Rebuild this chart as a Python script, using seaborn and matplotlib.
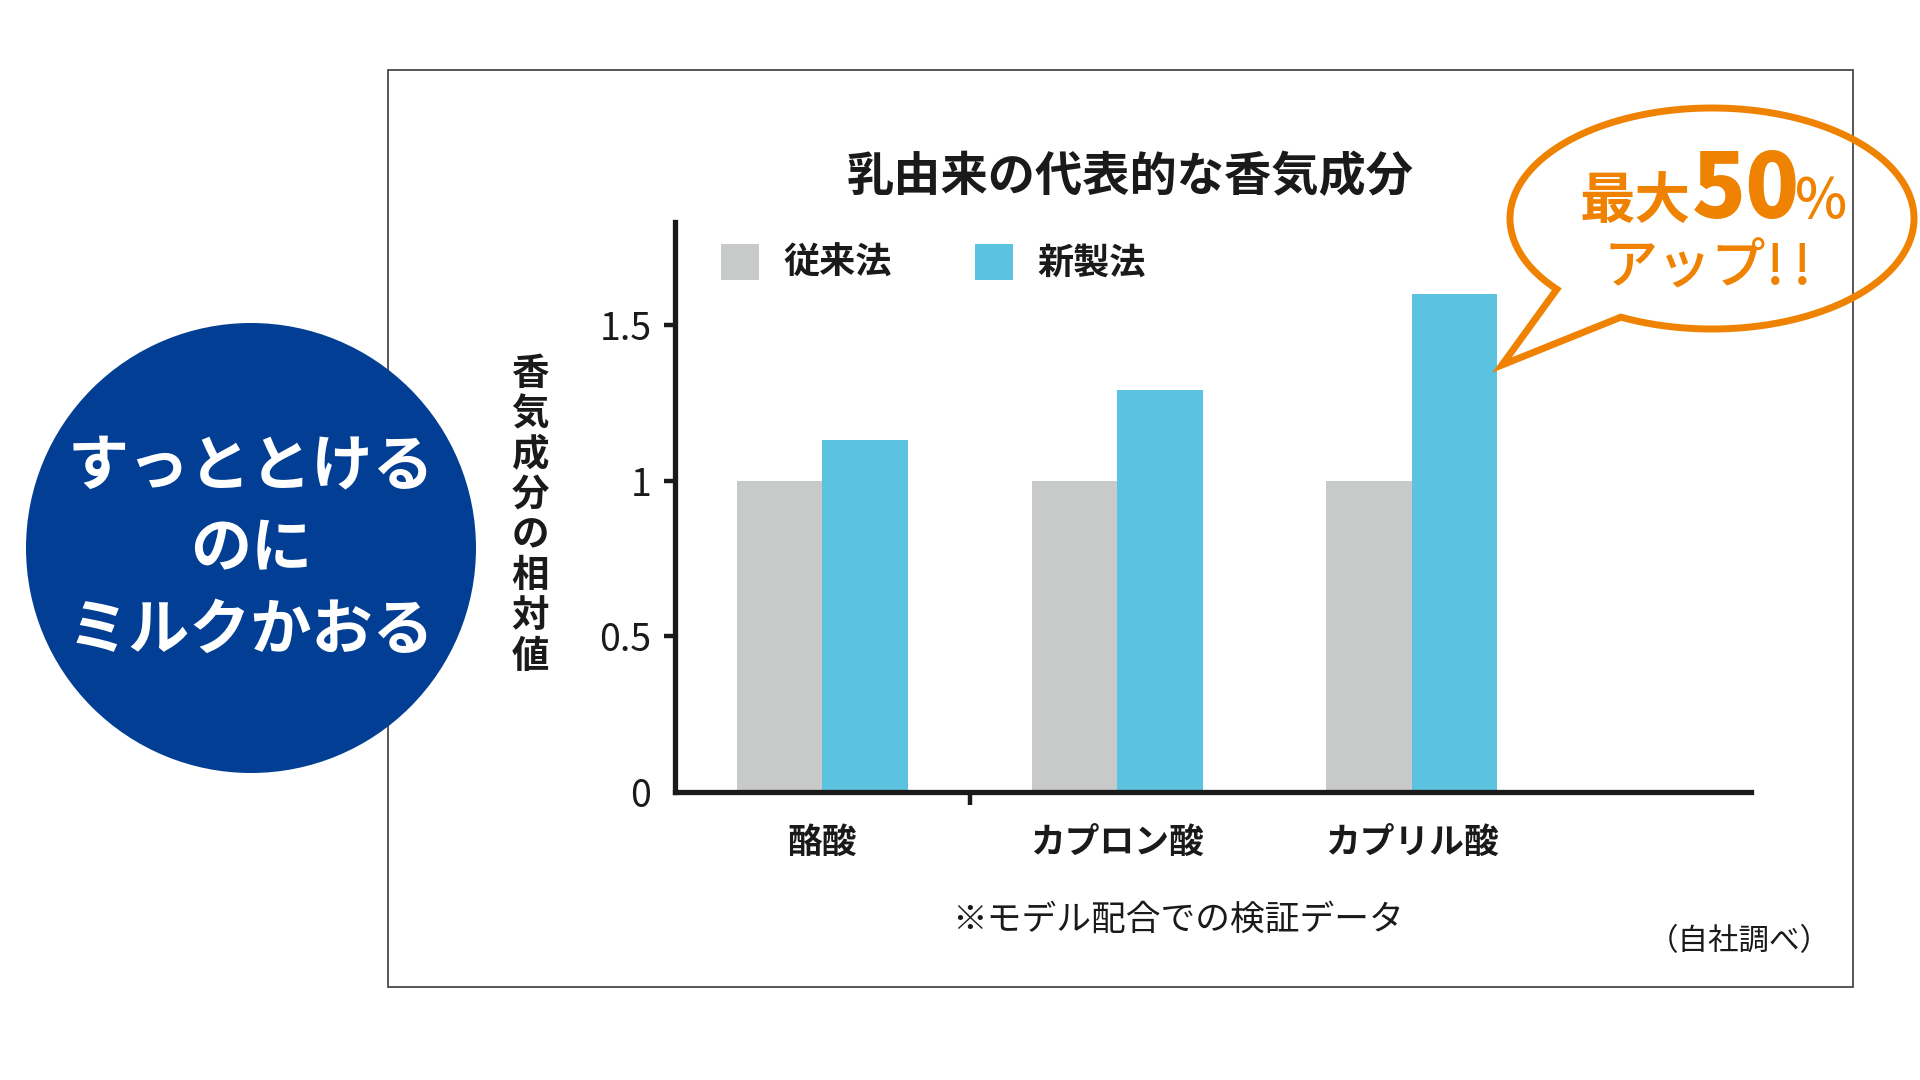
import numpy as np
import pandas as pd
import matplotlib
matplotlib.use("Agg")
import matplotlib.pyplot as plt
import seaborn as sns
from matplotlib.patches import Patch, Circle, Polygon, Rectangle

# ---------------- data ----------------
categories = ["酪酸", "カプロン酸", "カプリル酸"]
methods = ["従来法", "新製法"]
conventional = [1.0, 1.0, 1.0]
new_method = [1.13, 1.29, 1.60]
yticks = [0, 0.5, 1, 1.5]
ytick_labels = ["0", "0.5", "1", "1.5"]
title = "乳由来の代表的な香気成分"
ylabel = "香気成分の相対値"
note = "※モデル配合での検証データ"
source = "（自社調べ）"
circle_lines = ["すっととける", "のに", "ミルクかおる"]

GRAY = "#C8C9C9"
BLUE = "#5BC2E0"
NAVY = "#023F94"
ORANGE = "#EF8200"
INK = "#1A1A1A"

sns.set_theme(style="white")
plt.rcParams["font.family"] = ["Noto Sans CJK JP", "DejaVu Sans"]

df = pd.DataFrame({
    "成分": categories * 2,
    "製法": [methods[0]] * 3 + [methods[1]] * 3,
    "値": conventional + new_method,
})

W, H = 1920, 1080
fig = plt.figure(figsize=(W / 100, H / 100), dpi=100)
fig.patch.set_facecolor("white")

# main axes
ax_l, ax_r, ax_b, ax_t = 675, 1751, 792, 222
ax = fig.add_axes([ax_l / W, 1 - ax_b / H, (ax_r - ax_l) / W, (ax_b - ax_t) / H])
ax.set_zorder(1)
sns.barplot(data=df, x="成分", y="値", hue="製法", palette=[GRAY, BLUE],
            width=0.58, gap=0, saturation=1, legend=False, ax=ax,
            edgecolor="none", linewidth=0)
ax.set_facecolor("none")
ax.set_xlim(-0.5, 3.15)
ax.set_ylim(0, 1.831)
ax.set_xlabel("")
ax.set_ylabel("")
for s in ["top", "right"]:
    ax.spines[s].set_visible(False)
for s in ["left", "bottom"]:
    ax.spines[s].set_linewidth(3.8)
    ax.spines[s].set_color(INK)
    ax.spines[s].set_capstyle("projecting")

ax.set_yticks(yticks)
ax.set_yticklabels(ytick_labels)
ax.tick_params(axis="y", direction="out", length=8, width=3.2, color=INK,
               labelsize=27, labelcolor=INK, pad=9, left=True)
ax.yaxis.get_major_ticks()[0].tick1line.set_visible(False)

ax.set_xticks(range(len(categories)))
ax.set_xticklabels(categories, fontsize=25, fontweight="bold", color=INK)
ax.set_xticks([0.5, 1.5, 2.5], minor=True)
ax.tick_params(axis="x", which="major", length=0, pad=24)
ax.tick_params(axis="x", which="minor", direction="out", length=9, width=3.2,
               color=INK, bottom=True)
for tk in ax.xaxis.get_minor_ticks()[1:]:
    tk.tick1line.set_markersize(2.5)
ax.grid(False)

handles = [Patch(facecolor=GRAY, edgecolor="none"), Patch(facecolor=BLUE, edgecolor="none")]
fig.legend(handles, methods, loc="upper left",
           bbox_to_anchor=(721 / W, 1 - 244 / H), bbox_transform=fig.transFigure,
           ncol=2, frameon=False, borderpad=0, borderaxespad=0,
           handlelength=1.05, handleheight=1.15, handletextpad=0.68,
           columnspacing=2.3, prop={"size": 26, "weight": "bold"},
           labelcolor=INK)

# overlay axes in pixel coordinates
ov = fig.add_axes([0, 0, 1, 1])
ov.set_zorder(2)
ov.set_facecolor("none")
ov.set_xlim(0, W)
ov.set_ylim(H, 0)
ov.set_axis_off()

# frame
ov.add_patch(Rectangle((388, 70), 1853 - 388, 987 - 70, fill=False,
                       edgecolor="#3A3A3A", linewidth=1.2))

# title
ov.text(1130, 177, title, ha="center", va="center", fontsize=34, fontweight="bold", color=INK)

# vertical y label
y0, step = 373, 40.5
for i, ch in enumerate(ylabel):
    ov.text(530, y0 + i * step, ch, ha="center", va="center", fontsize=27,
            fontweight="bold", color=INK)

# notes
ov.text(1178, 920, note, ha="center", va="center", fontsize=25, color=INK)
ov.text(1739, 942, source, ha="center", va="center", fontsize=22, color=INK)

# navy circle
ov.add_patch(Circle((251, 548), 225, facecolor=NAVY, edgecolor="none"))
for txt, yy in zip(circle_lines, [467, 549, 631]):
    ov.text(251, yy, txt, ha="center", va="center", fontsize=44, fontweight="bold", color="white")

# speech bubble
cx, cy, a, b = 1712, 218.5, 202, 110.5
t = np.deg2rad(np.linspace(140.2, 116.8 + 360, 300))
pts = np.column_stack([cx + a * np.cos(t), cy + b * np.sin(t)])
pts = np.vstack([pts, [1502, 365]])
ov.add_patch(Polygon(pts, closed=True, fill=False, edgecolor=ORANGE, linewidth=5,
                     joinstyle="miter"))
ov.text(1635, 218, "最大", ha="center", va="baseline", fontsize=40, fontweight="bold", color=ORANGE)
ov.text(1746, 218, "50", ha="center", va="baseline", fontsize=64, fontweight="heavy", color=ORANGE)
ov.text(1821, 218, "%", ha="center", va="baseline", fontsize=40, fontweight="medium", color=ORANGE)
ov.text(1685, 284, "アップ", ha="center", va="baseline", fontsize=39, fontweight="medium", color=ORANGE)
ov.text(1775, 284, "!", ha="center", va="baseline", fontsize=39, fontweight="medium", color=ORANGE)
ov.text(1802, 284, "!", ha="center", va="baseline", fontsize=39, fontweight="medium", color=ORANGE)

fig.savefig("out.png", dpi=100, facecolor="white")
